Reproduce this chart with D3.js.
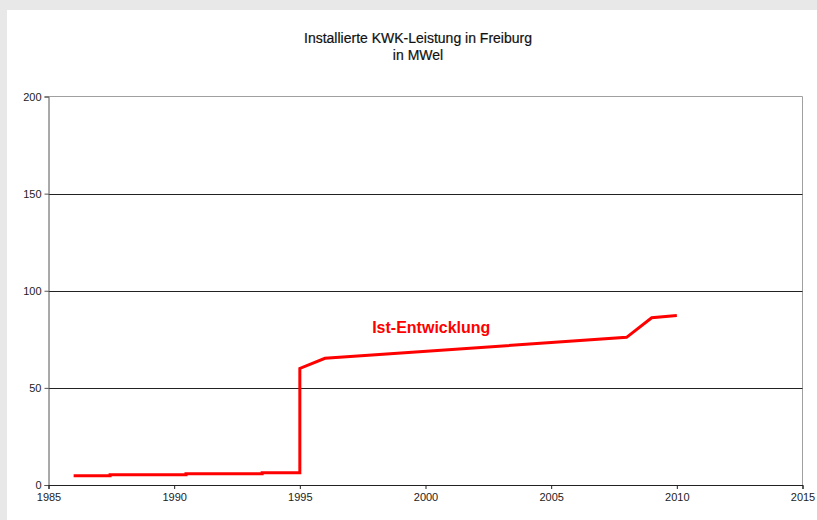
<!DOCTYPE html>
<html>
  <head>
    <meta charset="utf-8">
    <title>Installierte KWK-Leistung in Freiburg</title>
    <script src="https://cdn.jsdelivr.net/npm/d3@7"></script>
    <style>
      body
      {
        margin: 0px;
        padding: 0px;
        background: #e8e8e8;
        font-family: Arial, "Liberation Sans", sans-serif;
      }

      svg
      {
        display: block;
      }

      .tick text
      {
        font-size: 11px;
        fill: #222;
      }

      .grid line
      {
        stroke: #222;
        stroke-width: 1px;
      }
    </style>
  </head>
  <body>
    <svg id="chart"></svg>

    <script>

      //--- Data
      var years  = [1986, 1987.45, 1987.45, 1990.47, 1990.47, 1993.5, 1993.5, 1995, 1995, 1996, 2008, 2009, 2010];
      var values = [4.8,  4.8,     5.3,     5.3,     5.8,     5.8,    6.3,    6.3,  60,   65.2, 76,   86.1, 87.2];

      var xTicks = [1985, 1990, 1995, 2000, 2005, 2010, 2015];
      var yTicks = [0, 50, 100, 150, 200];

      var titleLines = ["Installierte KWK-Leistung in Freiburg", "in MWel"];
      var seriesLabel = "Ist-Entwicklung";

      var width = 817, height = 520;
      var margin = { left: 48.5, top: 96.5, right: 802.5, bottom: 485 };

      var svg = d3.select("#chart")
          .attr("width", width)
          .attr("height", height);

      //--- White chart area
      svg.append("rect")
          .attr("x", 7).attr("y", 10)
          .attr("width", width - 7).attr("height", height - 10)
          .attr("fill", "white");

      var x = d3.scaleLinear().domain([1985, 2015]).range([margin.left, margin.right]);
      var y = d3.scaleLinear().domain([0, 200]).range([margin.bottom, margin.top]);

      //--- Plot frame (top and right)
      svg.append("path")
          .attr("d", "M" + margin.left + "," + margin.top + "H" + margin.right + "V" + margin.bottom)
          .attr("fill", "none")
          .attr("stroke", "#a0a0a0");

      //--- Gridlines
      svg.append("g")
          .classed("grid", true)
          .selectAll("line")
          .data(yTicks.filter(d => d > 0 && d < 200))
          .enter()
            .append("line")
              .attr("x1", margin.left).attr("x2", margin.right)
              .attr("y1", d => Math.round(y(d)) + 0.5)
              .attr("y2", d => Math.round(y(d)) + 0.5);

      //--- Axes
      var yAxis = svg.append("g")
          .attr("transform", "translate(" + margin.left + ",0)")
          .call(d3.axisLeft(y).tickValues(yTicks).tickSize(4).tickPadding(3).tickFormat(d3.format("d")));
      yAxis.select(".domain").attr("stroke", "#555");
      yAxis.selectAll(".tick line").attr("stroke", "#555");

      var xAxis = svg.append("g")
          .attr("transform", "translate(0," + margin.bottom + ")")
          .call(d3.axisBottom(x).tickValues(xTicks).tickSize(4).tickPadding(4).tickFormat(d3.format("d")));
      xAxis.select(".domain").attr("stroke", "#222");
      xAxis.selectAll(".tick line").attr("stroke", "#222");

      svg.selectAll(".tick text").attr("font-family", "Arial, 'Liberation Sans', sans-serif");

      //--- Series line
      var points = years.map((yr, i) => [yr, values[i]]);
      svg.append("path")
          .datum(points)
          .attr("d", d3.line().x(d => x(d[0])).y(d => y(d[1])))
          .attr("fill", "none")
          .attr("stroke", "#ff0000")
          .attr("stroke-width", 3)
          .attr("stroke-linejoin", "miter");

      //--- Series label
      svg.append("text")
          .attr("x", x(2000.23))
          .attr("y", y(78.5))
          .attr("text-anchor", "middle")
          .attr("font-size", "16px")
          .attr("font-weight", "bold")
          .attr("fill", "#ff0000")
          .text(seriesLabel);

      //--- Title
      svg.append("g")
          .selectAll("text")
          .data(titleLines)
          .enter()
            .append("text")
              .attr("x", 418)
              .attr("y", (d, i) => 43 + i * 17)
              .attr("text-anchor", "middle")
              .attr("font-size", "14px")
              .attr("fill", "#111")
              .attr("stroke", "#111")
              .attr("stroke-width", 0.2)
              .text(d => d);

    </script>
  </body>
</html>
